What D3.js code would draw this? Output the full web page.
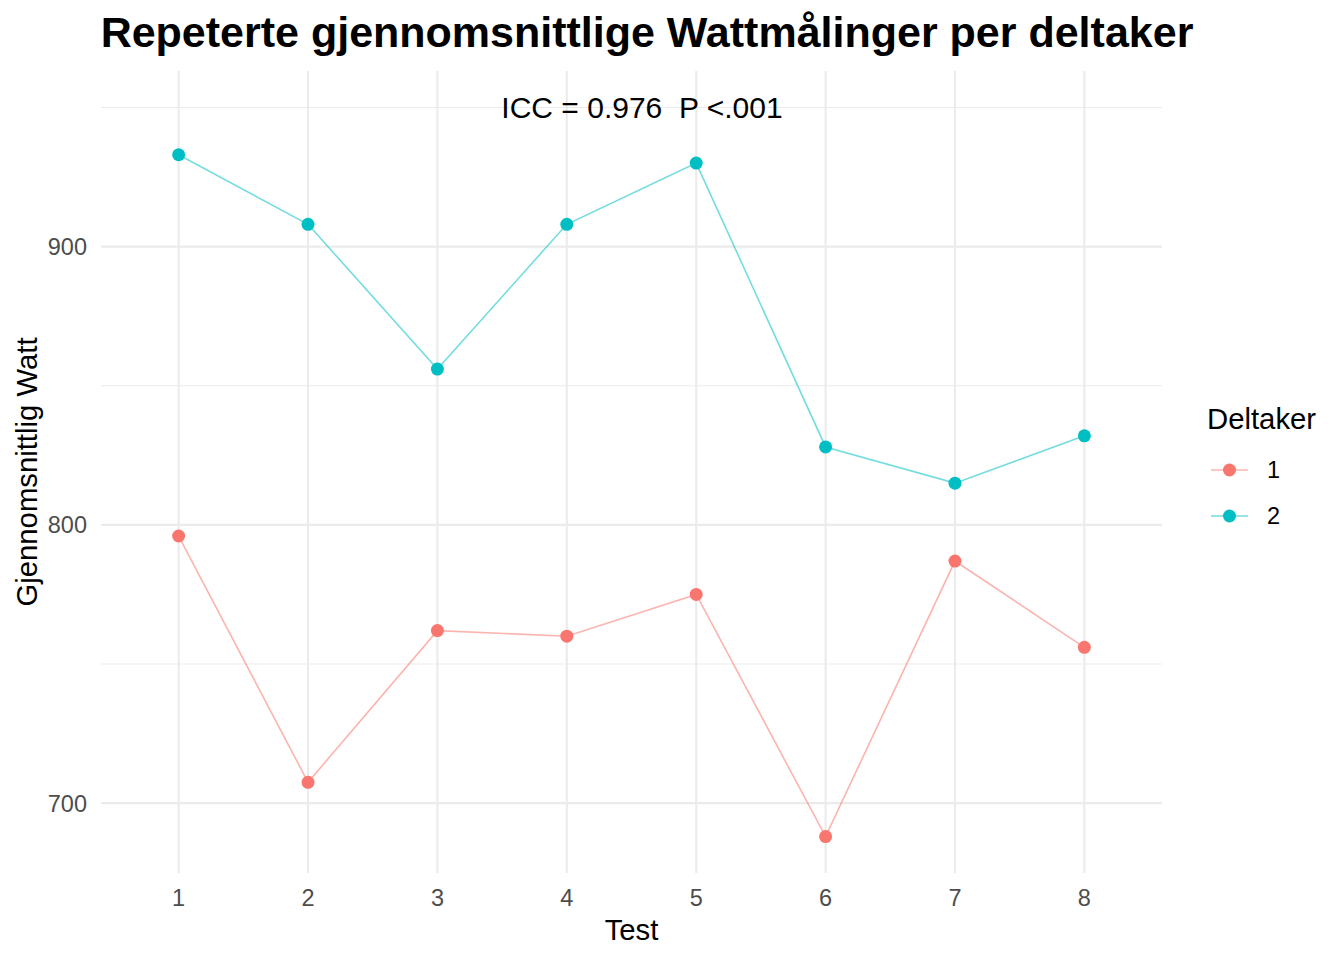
<!DOCTYPE html>
<html>
<head>
<meta charset="utf-8">
<script src="https://cdn.jsdelivr.net/npm/d3@7"></script>
<style>
  body { margin: 0; background: #fff; }
  text { font-family: "Liberation Sans", Arial, sans-serif; }
</style>
</head>
<body>
<div id="chart"></div>
<script>
// data
const tests = [1, 2, 3, 4, 5, 6, 7, 8];
const deltakere = ["1", "2"];
const watt1 = [796, 707.5, 762, 760, 775, 688, 787, 756];
const watt2 = [933, 908, 856, 908, 930, 828, 815, 832];
const yTicks = [700, 800, 900];
const yMinor = [750, 850, 950];

const width = 1344,
  height = 960;
const panel = { left: 101, right: 1162, top: 71, bottom: 873 };

const colors = ["#F8766D", "#00BFC4"];
const series = [watt1, watt2];

const svg = d3.select("#chart")
  .append("svg")
  .attr("width", width)
  .attr("height", height);

// discrete x with 0.6 expansion like ggplot
const x = d3.scaleLinear()
  .domain([0.4, 8.6])
  .range([panel.left, panel.right]);

// y includes the annotation at 950, 5% expand
const y = d3.scaleLinear()
  .domain([674.9, 963.1])
  .range([panel.bottom, panel.top]);

// grid
svg.append("g")
  .selectAll("line")
  .data(yMinor)
  .join("line")
  .attr("x1", panel.left).attr("x2", panel.right)
  .attr("y1", d => y(d)).attr("y2", d => y(d))
  .attr("stroke", "#ebebeb")
  .attr("stroke-width", 1.1);

svg.append("g")
  .selectAll("line")
  .data(yTicks)
  .join("line")
  .attr("x1", panel.left).attr("x2", panel.right)
  .attr("y1", d => y(d)).attr("y2", d => y(d))
  .attr("stroke", "#ebebeb")
  .attr("stroke-width", 2.1);

svg.append("g")
  .selectAll("line")
  .data(tests)
  .join("line")
  .attr("x1", d => x(d)).attr("x2", d => x(d))
  .attr("y1", panel.top).attr("y2", panel.bottom)
  .attr("stroke", "#ebebeb")
  .attr("stroke-width", 2.1);

// tick labels
svg.append("g")
  .selectAll("text")
  .data(yTicks)
  .join("text")
  .attr("x", 87)
  .attr("y", d => y(d))
  .attr("dy", "0.36em")
  .attr("text-anchor", "end")
  .attr("fill", "#4d4d4d")
  .style("font-size", "23.5px")
  .text(d => d);

svg.append("g")
  .selectAll("text")
  .data(tests)
  .join("text")
  .attr("x", d => x(d))
  .attr("y", 906)
  .attr("text-anchor", "middle")
  .attr("fill", "#4d4d4d")
  .style("font-size", "23.5px")
  .text(d => d);

// lines and points
const line = d3.line()
  .x((d, i) => x(tests[i]))
  .y(d => y(d));

series.forEach(function (s, k) {
  svg.append("path")
    .datum(s)
    .attr("d", line)
    .attr("fill", "none")
    .attr("stroke", colors[k])
    .attr("stroke-opacity", 0.55)
    .attr("stroke-width", 1.6);

  svg.append("g")
    .selectAll("circle")
    .data(s)
    .join("circle")
    .attr("cx", (d, i) => x(tests[i]))
    .attr("cy", d => y(d))
    .attr("r", 6.5)
    .attr("fill", colors[k]);
});

// annotation (keep the double space)
svg.append("text")
  .attr("x", 642)
  .attr("y", y(950))
  .attr("dy", "0.36em")
  .attr("text-anchor", "middle")
  .style("font-size", "30px")
  .style("white-space", "pre")
  .text("ICC = 0.976  P <.001");

// titles
svg.append("text")
  .attr("x", 647)
  .attr("y", 47)
  .attr("text-anchor", "middle")
  .style("font-size", "43px")
  .style("font-weight", "bold")
  .text("Repeterte gjennomsnittlige Wattmålinger per deltaker");

svg.append("text")
  .attr("x", (panel.left + panel.right) / 2)
  .attr("y", 940)
  .attr("text-anchor", "middle")
  .style("font-size", "29.3px")
  .text("Test");

svg.append("text")
  .attr("transform", `translate(37, ${(panel.top + panel.bottom) / 2}) rotate(-90)`)
  .attr("text-anchor", "middle")
  .style("font-size", "29.3px")
  .text("Gjennomsnittlig Watt");

// legend
const legend = svg.append("g");
legend.append("text")
  .attr("x", 1207)
  .attr("y", 429)
  .style("font-size", "29.3px")
  .text("Deltaker");

const keys = legend.selectAll("g.key")
  .data(deltakere)
  .join("g")
  .attr("class", "key")
  .attr("transform", (d, i) => `translate(0, ${470 + i * 46})`);

keys.append("line")
  .attr("x1", 1211).attr("x2", 1248)
  .attr("stroke", (d, i) => colors[i])
  .attr("stroke-opacity", 0.55)
  .attr("stroke-width", 1.6);

keys.append("circle")
  .attr("cx", 1229.5)
  .attr("r", 6.5)
  .attr("fill", (d, i) => colors[i]);

keys.append("text")
  .attr("x", 1267)
  .attr("dy", "0.36em")
  .style("font-size", "23.5px")
  .text(d => d);
</script>
</body>
</html>
